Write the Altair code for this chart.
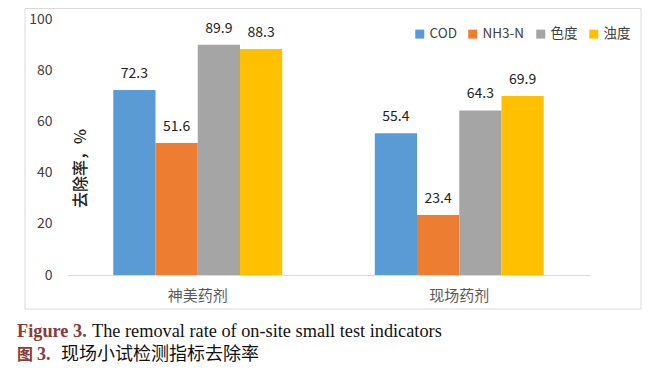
import altair as alt
import pandas as pd

groups = ["神美药剂", "现场药剂"]
indicators = ["COD", "NH3-N", "色度", "浊度"]
cod = [72.3, 55.4]
nh3n = [51.6, 23.4]
chroma = [89.9, 64.3]
turbidity = [88.3, 69.9]
colors = ["#5B9BD5", "#ED7D31", "#A5A5A5", "#FFC000"]
y_ticks = [0, 20, 40, 60, 80, 100]
y_title = "去除率，%"
cap1_head = ["Figure 3."]
cap1_body = ["The removal rate of on-site small test indicators"]
cap2_head = ["图"]
cap2_num = ["3."]
cap2_body = ["现场小试检测指标去除率"]

rows = []
for i, g in enumerate(groups):
    for ind, vals in zip(indicators, [cod, nh3n, chroma, turbidity]):
        rows.append({"group": g, "indicator": ind, "value": vals[i]})
df = pd.DataFrame(rows)

FONT = "Noto Sans CJK SC"

base = alt.Chart(df).encode(
    x=alt.X("group:N", sort=groups,
            scale=alt.Scale(paddingInner=0.354, paddingOuter=0.177),
            axis=alt.Axis(title=None, labelAngle=0, ticks=False, domainColor="#d9d9d9",
                          labelPadding=13, labelFontSize=15, labelColor="#595959",
                          labelFont=FONT)),
    xOffset=alt.XOffset("indicator:N", sort=indicators,
                        scale=alt.Scale(paddingInner=0, paddingOuter=0)),
    y=alt.Y("value:Q", scale=alt.Scale(domain=[0, 100]),
            axis=alt.Axis(values=y_ticks, grid=False, domain=False, ticks=False,
                          labelPadding=15, labelFontSize=14, labelColor="#404040",
                          labelFont=FONT, title=y_title, titleFont=FONT,
                          titleFontSize=16, titleFontWeight=500, titleColor="#222222",
                          titleX=13, titleY=149, titleAngle=270, titleAlign="center",
                          titleBaseline="middle")),
)

bars = base.mark_bar().encode(
    color=alt.Color("indicator:N", sort=indicators,
                    scale=alt.Scale(domain=indicators, range=colors),
                    legend=alt.Legend(title=None, orient="none", legendX=346, legendY=8,
                                      direction="horizontal", symbolType="square",
                                      symbolSize=81, symbolStrokeWidth=0,
                                      labelFont=FONT, labelFontSize=13.5,
                                      labelColor="#404040", labelOffset=3,
                                      columnPadding=9))
)

labels = base.mark_text(dy=-9, baseline="bottom", fontSize=14, font=FONT,
                        color="#222222").encode(text=alt.Text("value:Q", format=".1f"))

border = alt.Chart(pd.DataFrame({"k": [0]})).mark_rect(
    fill=None, stroke="#d9d9d9", strokeWidth=1
).encode(x=alt.value(-42), x2=alt.value(574), y=alt.value(-10.5), y2=alt.value(290))


def caption(data, x, y, font, size, color, weight="normal"):
    return alt.Chart(pd.DataFrame({"t": data})).mark_text(
        align="left", baseline="alphabetic", font=font, fontSize=size,
        color=color, fontWeight=weight
    ).encode(x=alt.value(x), y=alt.value(y), text="t:N")


red = "#8B3A3A"
caps = [
    caption(cap1_head, -50, 318, "Liberation Serif", 18.3, red, "bold"),
    caption(cap1_body, 25, 318, "Liberation Serif", 18.3, "#111111"),
    caption(cap2_head, -50, 341, FONT, 16, red, "bold"),
    caption(cap2_num, -30, 341, "Liberation Serif", 18, red, "bold"),
    caption(cap2_body, -6, 341, FONT, 18, "#111111"),
]

chart = alt.layer(border, bars, labels, *caps).properties(
    width=523, height=256,
    padding={"left": 59, "top": 11, "right": 63, "bottom": 89},
    autosize=alt.AutoSizeParams(type="none"),
).configure_view(stroke=None)

chart.save("out.html", embed_options={"renderer": "svg", "actions": False})
